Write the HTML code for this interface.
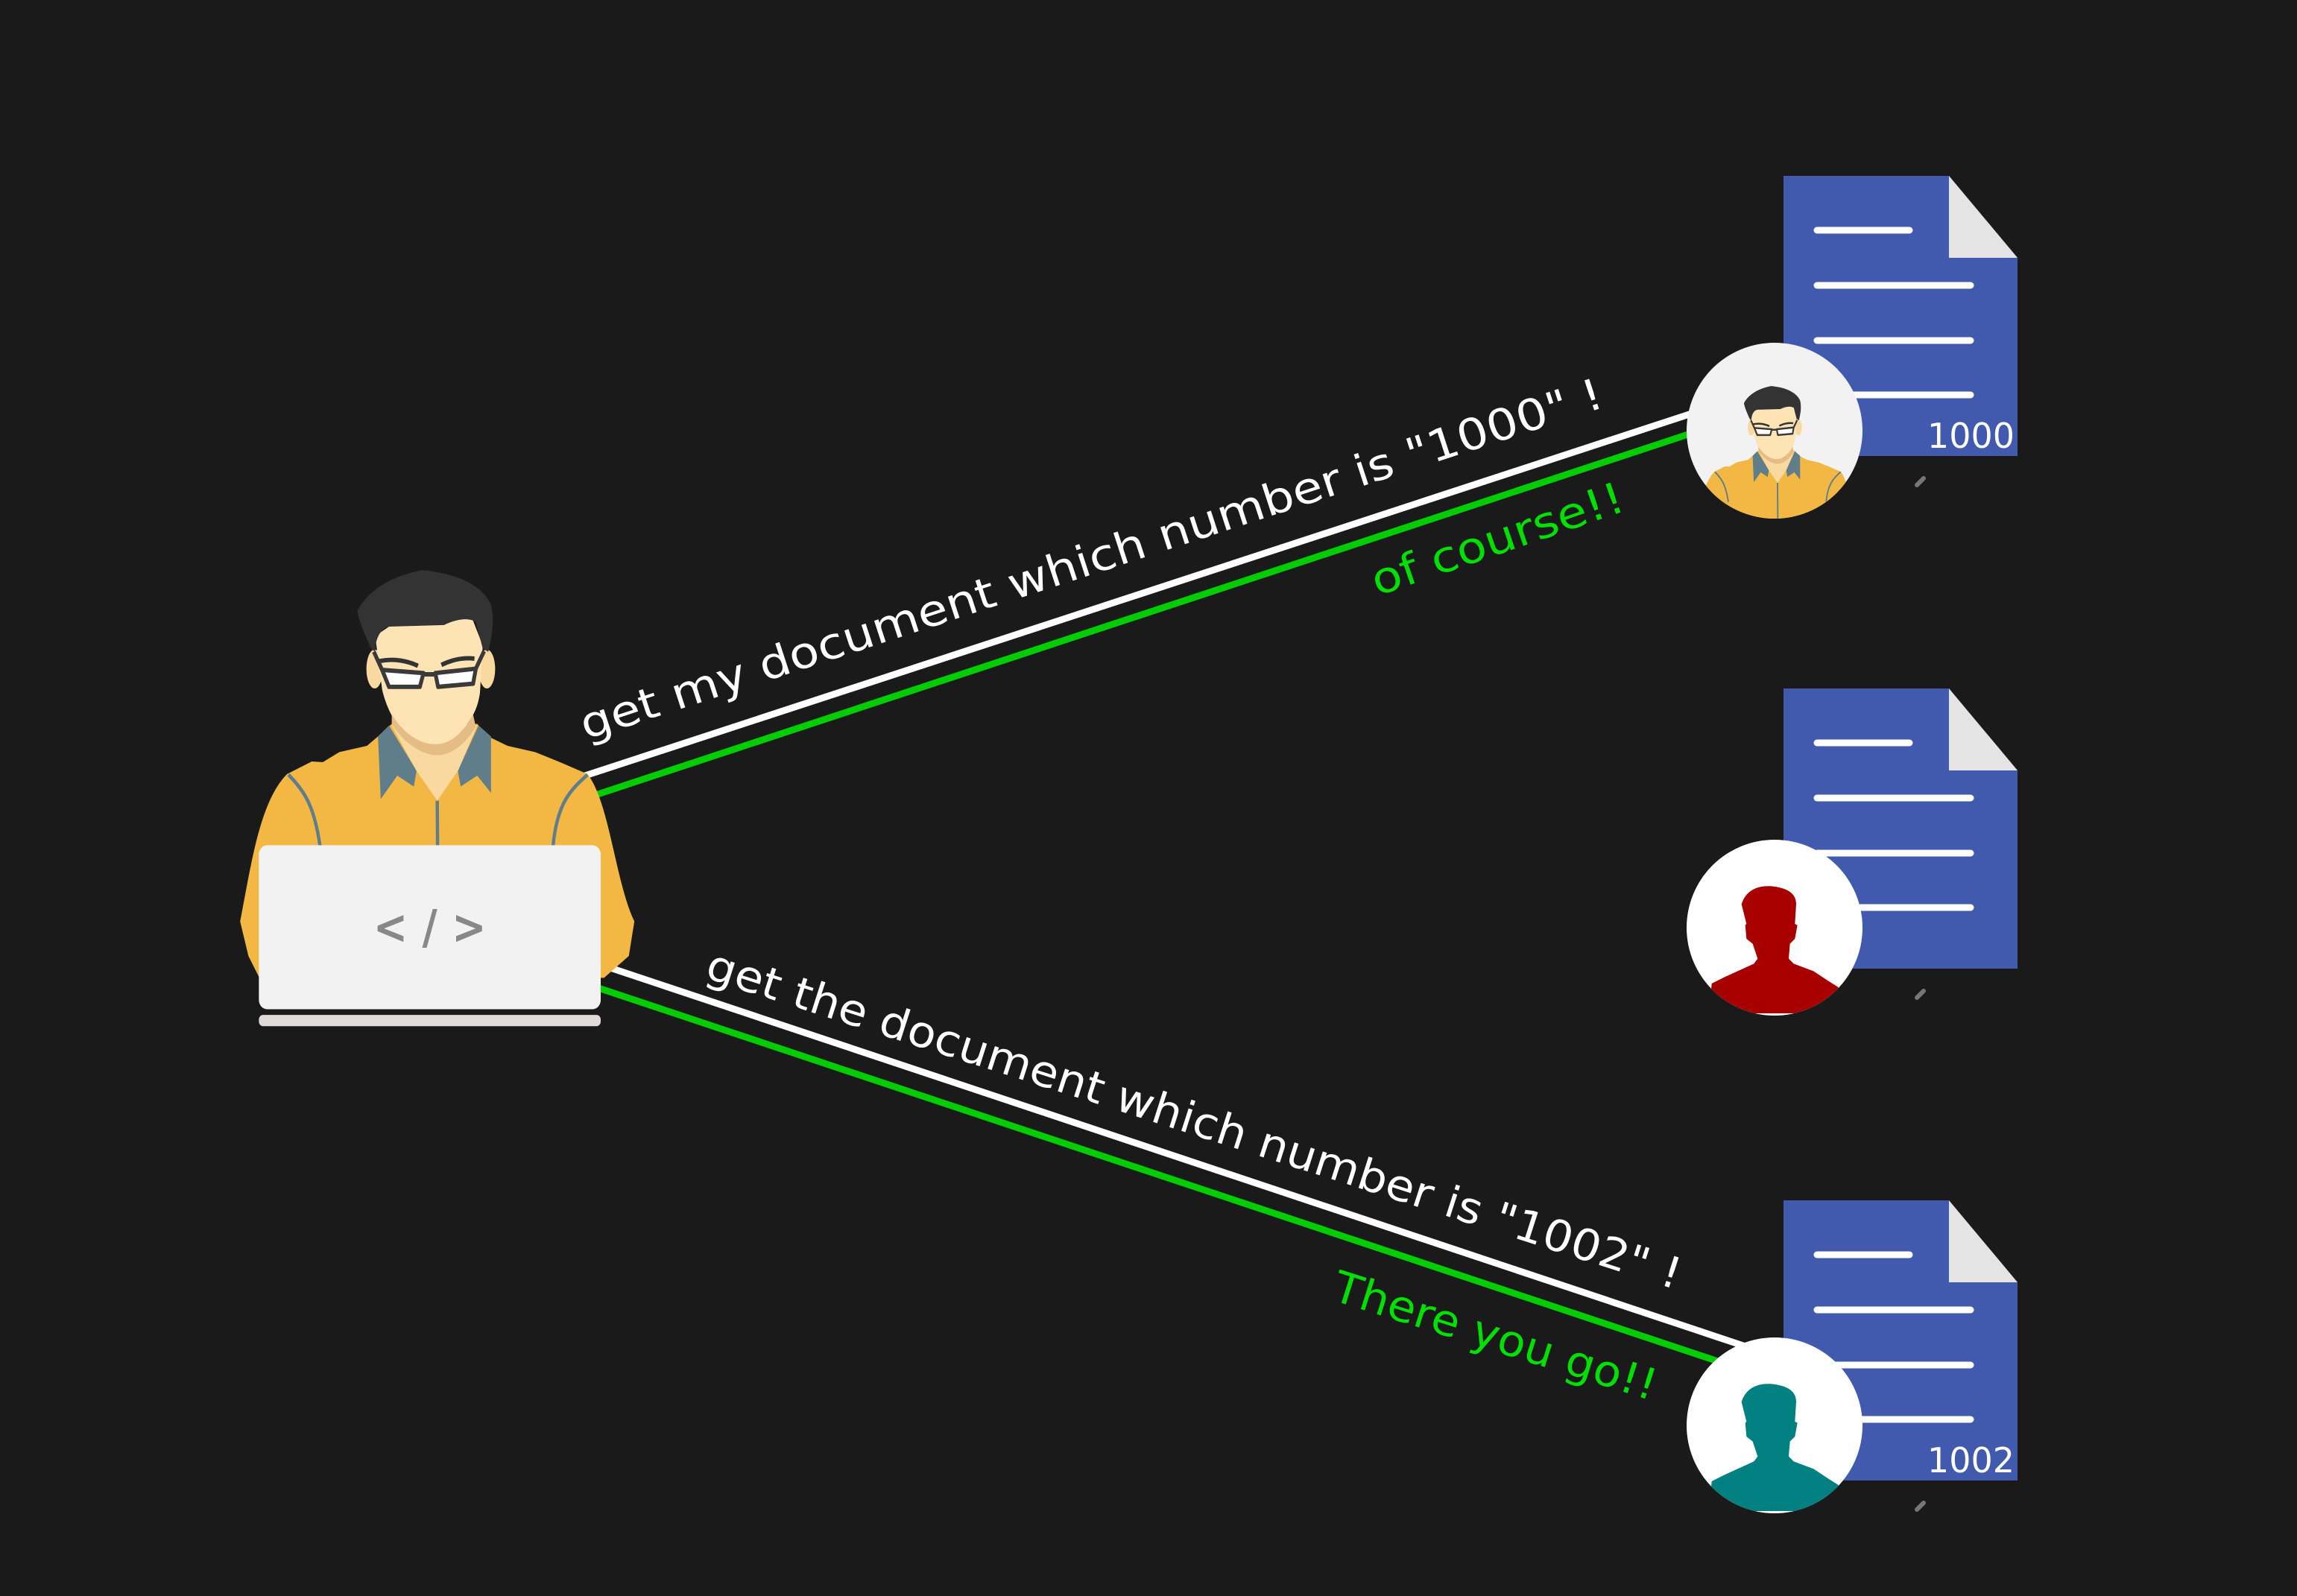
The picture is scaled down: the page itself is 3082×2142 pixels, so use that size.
<!DOCTYPE html>
<html><head><meta charset="utf-8"><style>html,body{margin:0;padding:0;background:#1a1a1a}svg{display:block}</style></head>
<body>
<svg width="3082" height="2142" viewBox="0 0 3082 2142" xmlns="http://www.w3.org/2000/svg" font-family="DejaVu Sans, Liberation Sans, sans-serif">
<defs>
<g id="body">
 <path d="M60 1180 C100 1000 130 800 230 710 L320 670 L360 672 L420 640 L520 620 L560 590 L610 550 L920 550 L960 590 L1030 620 L1130 640 L1220 672 L1320 710 C1400 800 1420 1050 1490 1180 L1470 1290 L1380 1360 L130 1360 L90 1290 Z" fill="#f3b843"/>
 <path d="M610 555 L920 555 L850 700 L775 795 L700 700 Z" fill="#f9d9a0"/>
 <path d="M560 590 L600 555 L700 700 L690 750 L630 715 L570 790 Z" fill="#607d8b"/>
 <path d="M970 590 L925 555 L850 700 L860 750 L920 715 L970 770 Z" fill="#607d8b"/>
 <path d="M235 712 C300 770 330 820 350 940 M1320 712 C1260 760 1210 800 1195 940 M775 795 L780 1400" stroke="#607d8b" stroke-width="12" fill="none"/>
 <ellipse cx="548" cy="375" rx="30" ry="62" fill="#f9d9a0"/>
 <ellipse cx="955" cy="375" rx="30" ry="62" fill="#f9d9a0"/>
 <path d="M550 270 L600 240 L900 210 L940 300 L930 450 C920 520 880 560 830 600 C790 640 740 640 690 610 C630 570 590 500 575 440 Z" fill="#fee3b4"/>
 <path d="M610 550 C650 610 720 650 775 650 C830 650 880 610 915 560 L905 520 C870 580 820 615 770 615 C720 615 660 590 610 520 Z" fill="#e5bd84"/>
 <path d="M485 190 C520 130 600 80 720 60 C850 70 940 110 970 170 C985 230 970 280 960 320 L940 310 L915 225 C880 205 820 225 800 235 L600 240 C560 250 550 290 550 320 L535 310 C510 260 490 220 485 190 Z" fill="#333"/>
 <path d="M565 350 C620 340 670 350 705 365 M790 362 C830 345 870 338 910 342" stroke="#333" stroke-width="14" fill="none"/>
 <path d="M575 378 L725 388 L712 432 L600 432 Z M768 388 L915 374 L905 422 L778 432 Z" fill="#fff" stroke="#3a3a3a" stroke-width="14" stroke-linejoin="round"/>
 <path d="M725 392 L768 392 M575 378 L545 320 M915 374 L945 318" stroke="#3a3a3a" stroke-width="14" fill="none"/>
</g>
<g id="laptop">
 <rect x="128" y="937" width="1240" height="523" rx="30" fill="#f2f2f2"/>
 <rect x="128" y="1478" width="1240" height="36" rx="15" fill="#e2dada"/>
 <text x="748" y="1250" font-size="150" font-weight="bold" fill="#888" text-anchor="middle">&lt; / &gt;</text>
</g>
<g id="doc">
 <path d="M2393 0 L2615 0 L2707 110 L2707 376 L2393 376 Z" fill="#415aad"/>
 <path d="M2615 0 L2707 110 L2615 110 Z" fill="#e4e4e4"/>
 <g stroke="#fff" stroke-width="9" stroke-linecap="round">
  <line x1="2438" y1="73" x2="2562" y2="73"/>
  <line x1="2438" y1="147" x2="2644" y2="147"/>
  <line x1="2438" y1="221" x2="2644" y2="221"/>
  <line x1="2438" y1="294" x2="2644" y2="294"/>
 </g>
 <line x1="2572" y1="415" x2="2581" y2="406" stroke="#777" stroke-width="6" stroke-linecap="round"/>
</g>
<path id="sil" d="M170 160 C190 100 240 85 290 88 C360 95 390 120 390 160 L385 240 L395 245 L385 300 L365 320 L360 380 L380 400 L460 430 L520 470 L560 495 L560 600 L40 600 L50 480 L100 455 L220 400 L235 380 L215 320 L190 300 L185 245 L190 240 Z"/>
<clipPath id="c1"><circle cx="2381" cy="578" r="118"/></clipPath>
<clipPath id="c2"><circle cx="2381" cy="1245" r="118"/></clipPath>
<clipPath id="c3"><circle cx="2381" cy="1913" r="118"/></clipPath>
</defs>

<use href="#doc" transform="translate(0,236)"/>
<use href="#doc" transform="translate(0,924)"/>
<use href="#doc" transform="translate(0,1611)"/>
<text x="2703" y="601" font-size="46" fill="#fff" text-anchor="end">1000</text>
<text x="2703" y="1976" font-size="46" fill="#fff" text-anchor="end">1002</text>

<line x1="782" y1="1042" x2="2285" y2="550" stroke="#fff" stroke-width="9"/>
<line x1="802" y1="1066" x2="2280" y2="578" stroke="#00cc00" stroke-width="9"/>
<line x1="780" y1="1286" x2="2345" y2="1808" stroke="#fff" stroke-width="9"/>
<line x1="770" y1="1315" x2="2320" y2="1832" stroke="#00cc00" stroke-width="9"/>

<g transform="translate(300,740) scale(0.3699,0.4209)"><use href="#body"/><use href="#laptop"/></g>

<circle cx="2381" cy="578" r="118" fill="#f2f2f2"/>
<g clip-path="url(#c1)"><g transform="translate(2138.6,196.7) scale(0.42)"><g transform="translate(300,740) scale(0.3699,0.4209)"><use href="#body"/></g></g></g>

<circle cx="2381" cy="1245" r="118" fill="#fff"/>
<g clip-path="url(#c2)"><use href="#sil" fill="#a80000" transform="translate(2280,1160) scale(0.33333)"/></g>
<circle cx="2381" cy="1913" r="118" fill="#fff"/>
<g clip-path="url(#c3)"><use href="#sil" fill="#008080" transform="translate(2280,1828) scale(0.33333)"/></g>

<text transform="translate(786,993) rotate(-18.1)" font-size="58" fill="#fff" textLength="1440" lengthAdjust="spacingAndGlyphs">get my document which number is "1000" !</text>
<text transform="translate(1848,800) rotate(-19)" font-size="58" fill="#00e000" textLength="355" lengthAdjust="spacingAndGlyphs">of course!!</text>
<text transform="translate(944,1312) rotate(17.8)" font-size="58" fill="#fff" textLength="1370" lengthAdjust="spacingAndGlyphs">get the document which number is "1002" !</text>
<text transform="translate(1785,1744) rotate(17.5)" font-size="58" fill="#00e000" textLength="452" lengthAdjust="spacingAndGlyphs">There you go!!</text>
</svg>
</body></html>
